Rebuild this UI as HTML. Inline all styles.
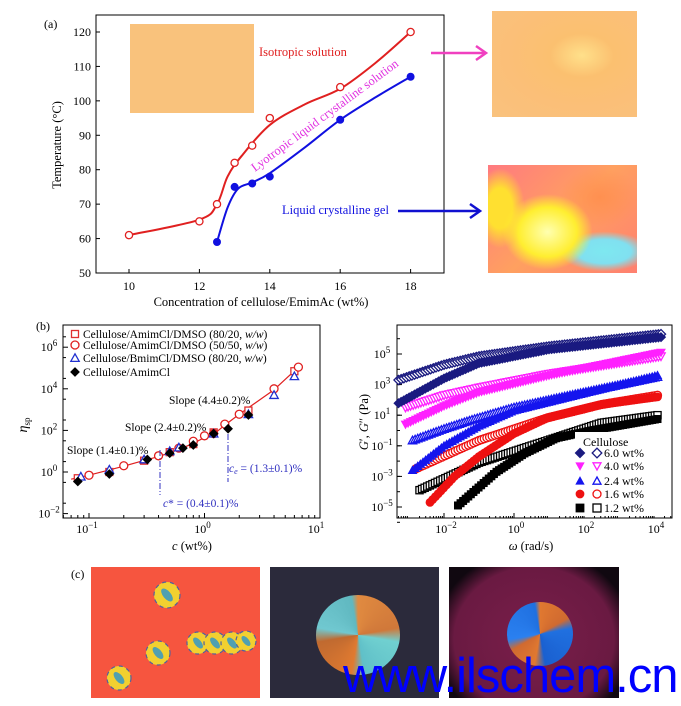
<!DOCTYPE html>
<html><head><meta charset="utf-8"><style>
html,body{margin:0;padding:0;background:#fff;}
#w{position:relative;width:681px;height:706px;overflow:hidden;font-family:"Liberation Serif",serif;}
.abs{position:absolute;}
</style></head><body><div id="w">
<div class="abs" style="left:130px;top:24px;width:124px;height:89px;background:#f9c27c;"></div>
<div class="abs" style="left:492px;top:11px;width:145px;height:106px;background:radial-gradient(ellipse at 62% 42%,#ffe08a 0%,#fbc070 25%,#fbbf78 60%,#f9c27e 100%);"></div>
<div class="abs" style="left:488px;top:165px;width:149px;height:108px;background:
radial-gradient(ellipse 45px 38px at 40% 62%,#ffffb0 0%,#ffee30 65%,rgba(255,230,40,0) 100%),
radial-gradient(ellipse 45px 20px at 78% 80%,#7ee8f0 0%,#80e0f0 60%,rgba(128,224,240,0) 100%),
radial-gradient(ellipse 25px 40px at 8% 40%,#ffe030 0%,#ffe030 50%,rgba(255,224,48,0) 100%),
radial-gradient(ellipse 40px 30px at 75% 30%,#ff9050 0%,rgba(255,144,80,0) 100%),
linear-gradient(135deg,#ff7a80,#ffa060 50%,#ff8070);"></div>
<div class="abs" style="left:91px;top:567px;width:169px;height:131px;background:#f6553f;"></div>
<div class="abs" style="left:270px;top:567px;width:169px;height:131px;background:#2b2a3b;"></div>
<div class="abs" style="left:316px;top:595px;width:84px;height:80px;border-radius:50%;background:conic-gradient(from 0deg,#e08a40 0deg,#d0783a 80deg,#70d0d0 100deg,#60c0c8 170deg,#e07a30 190deg,#c06a30 260deg,#70c8d0 280deg,#60b8c0 350deg,#e08a40 360deg);"></div>
<div class="abs" style="left:449px;top:567px;width:170px;height:131px;background:radial-gradient(ellipse 100px 90px at 50% 55%,#7a1e4a 0%,#6a1a42 80%,#100810 100%);"></div>
<div class="abs" style="left:507px;top:602px;width:66px;height:64px;border-radius:50%;background:conic-gradient(from 0deg,#e07830 0deg,#d06a30 60deg,#2070e0 80deg,#1a60d0 170deg,#e07830 190deg,#d06a30 240deg,#2a80f0 260deg,#2070e0 350deg,#e07830 360deg);"></div>
<svg class="abs" style="left:0;top:0" width="681" height="706" id="s" xmlns="http://www.w3.org/2000/svg" font-family="Liberation Serif, serif"></svg>
<div class="abs" style="left:343px;top:652px;font-family:'Liberation Sans',sans-serif;font-size:49px;color:#0000ff;letter-spacing:-1px;line-height:49px;">www.ilschem.cn</div>
</div>
<script>
const s=document.getElementById('s');let h='';
function T(x,y,t,o){o=o||{};h+=`<text x="${x}" y="${y}" font-size="${o.fs||13}" fill="${o.c||'#000'}" text-anchor="${o.a||'start'}" ${o.tr?'transform="'+o.tr+'"':''} ${o.fst?'font-style="italic"':''}>${t}</text>`;}
function L(x1,y1,x2,y2,c,w,d){h+=`<line x1="${x1}" y1="${y1}" x2="${x2}" y2="${y2}" stroke="${c||'#000'}" stroke-width="${w||1}" ${d?'stroke-dasharray="'+d+'"':''}/>`;}
function smooth(p){let d='M'+p[0][0]+','+p[0][1];for(let i=0;i<p.length-1;i++){const a=p[Math.max(0,i-1)],b=p[i],c=p[i+1],e=p[Math.min(p.length-1,i+2)];const c1=[b[0]+(c[0]-a[0])/6,b[1]+(c[1]-a[1])/6],c2=[c[0]-(e[0]-b[0])/6,c[1]-(e[1]-b[1])/6];d+=`C${c1},${c2},${c}`;}return d;}
function mk(t,x,y,r,c,f){const fi=f?c:'#fff',sw=f?0.8:1.3;
 if(t=='o')h+=`<circle cx="${x}" cy="${y}" r="${r}" fill="${fi}" stroke="${c}" stroke-width="${sw}"/>`;
 if(t=='s')h+=`<rect x="${x-r}" y="${y-r}" width="${2*r}" height="${2*r}" fill="${fi}" stroke="${c}" stroke-width="${sw}"/>`;
 if(t=='d')h+=`<polygon points="${x},${y-r*1.2} ${x+r*1.2},${y} ${x},${y+r*1.2} ${x-r*1.2},${y}" fill="${fi}" stroke="${c}" stroke-width="${sw}"/>`;
 if(t=='t')h+=`<polygon points="${x},${y-r} ${x+r},${y+r*0.8} ${x-r},${y+r*0.8}" fill="${fi}" stroke="${c}" stroke-width="${sw}"/>`;
 if(t=='v')h+=`<polygon points="${x},${y+r} ${x+r},${y-r*0.8} ${x-r},${y-r*0.8}" fill="${fi}" stroke="${c}" stroke-width="${sw}"/>`;}
h+=`<rect x="96" y="15" width="348" height="258" fill="none" stroke="#000" stroke-width="1"/>`;
const ax=c=>129+35.2*(c-10), ay=t=>273-(t-50)*3.443;
for(let t=50;t<=120;t+=10){L(96,ay(t),100,ay(t));T(91,ay(t)+4,t,{a:'end',fs:12});}
for(let c=10;c<=18;c+=2){L(ax(c),273,ax(c),269);T(ax(c),290,c,{a:'middle',fs:12});}
T(261,306,'Concentration of cellulose/EmimAc (wt%)',{a:'middle',fs:12.5});
T(61,145,'Temperature (°C)',{a:'middle',fs:12.5,tr:'rotate(-90 61 145)'});
T(44,28,'(a)',{fs:12});
const R=[[10,61],[12,65],[12.5,70],[13,82],[13.5,87],[14,95],[16,104],[18,120]],B=[[12.5,59],[13,75],[13.5,76],[14,78],[16,94.5],[18,107]];
const Rs=[[10,61],[12,65.5],[12.5,70],[12.8,78],[13.2,84],[14,93],[15,99],[16,103.5],[17,111],[18,120]];
const Bs=[[12.5,59],[12.8,69],[13.1,74.5],[13.5,76.3],[14,79],[15,86.5],[16,94.5],[17,101],[18,107]];
h+=`<path d="${smooth(Rs.map(p=>[ax(p[0]),ay(p[1])]))}" fill="none" stroke="#e02020" stroke-width="2"/>`;
h+=`<path d="${smooth(Bs.map(p=>[ax(p[0]),ay(p[1])]))}" fill="none" stroke="#1010e0" stroke-width="2"/>`;
R.forEach(p=>mk('o',ax(p[0]),ay(p[1]),3.6,'#e02020',0));B.forEach(p=>mk('o',ax(p[0]),ay(p[1]),3.6,'#1010e0',1));
T(259,56,'Isotropic solution',{c:'#e02020',fs:12.5});
T(255,172,'Lyotropic liquid crystalline solution',{c:'#e030e0',fs:12.5,tr:'rotate(-36.5 255 172)'});
T(282,214,'Liquid crystalline gel',{c:'#1010e0',fs:12.5});
L(431,53,484,53,'#f040c0',2.5);h+=`<polyline points="476,46 486,53 476,60" fill="none" stroke="#f040c0" stroke-width="2.5"/>`;
L(398,211,478,211,'#1010d0',2.5);h+=`<polyline points="470,204 480,211 470,218" fill="none" stroke="#1010d0" stroke-width="2.5"/>`;
h+=`<rect x="63" y="325" width="257" height="193" fill="none" stroke="#000"/>`;
const bx=c=>204.5+115.5*Math.log10(c), by=v=>472-20.8*Math.log10(v);
[-1,0,1].forEach(e=>{L(bx(10**e),518,bx(10**e),513);});
for(let e=-2;e<1;e++)for(let k=2;k<10;k++){const x=bx(k*10**e);if(x>63&&x<320)L(x,518,x,515);}
T(bx(0.1)-2,533,'10<tspan dy="-5" font-size="9">−1</tspan>',{a:'middle',fs:12});
T(bx(1)-2,533,'10<tspan dy="-5" font-size="9">0</tspan>',{a:'middle',fs:12});
T(bx(10)-4,533,'10<tspan dy="-5" font-size="9">1</tspan>',{a:'middle',fs:12});
[-2,0,2,4,6].forEach(e=>{L(63,by(10**e),68,by(10**e));T(49,by(10**e)+4,'10<tspan dy="-5" font-size="9">'+(e<0?'−2':e)+'</tspan>',{a:'middle',fs:12});});
for(let e=-2;e<7;e++)L(63,by(10**(e+0.5))+0,66,by(10**(e+0.5)));
T(192,550,'<tspan font-style="italic">c</tspan> (wt%)',{a:'middle',fs:12.5});
T(27,425,'<tspan font-style="italic">η</tspan><tspan font-size="9" dy="3">sp</tspan>',{a:'middle',fs:14,tr:'rotate(-90 27 425)'});
T(36,330,'(b)',{fs:12});
const rl=[[0.07,0.45],[0.1,0.7],[0.2,1.9],[0.3,3.6],[0.4,5.5],[0.6,12],[0.8,24],[1,45],[1.2,65],[1.5,180],[2,600],[4,9000],[6.5,1.1e5]];
h+=`<path d="${'M'+rl.map(p=>[bx(p[0]),by(p[1])]).join('L')}" fill="none" stroke="#e02020" stroke-width="1.2"/>`;
[[0.08,0.5],[0.15,1],[0.3,3.5],[0.5,9],[0.8,22],[1.2,80],[2.4,900],[6,7e4]].forEach(p=>mk('s',bx(p[0]),by(p[1]),3.5,'#e03030',0));
[[0.1,0.7],[0.2,2],[0.4,6],[0.6,14],[0.8,30],[1,55],[1.2,70],[1.5,200],[2,600],[4,1e4],[6.5,1.1e5]].forEach(p=>mk('o',bx(p[0]),by(p[1]),4,'#e02020',0));
[[0.085,0.6],[0.15,1.3],[0.3,4],[0.5,10],[0.6,15],[1.2,70],[2.4,600],[4,5e3],[6,4e4]].forEach(p=>mk('t',bx(p[0]),by(p[1]),4.2,'#2030d0',0));
[[0.08,0.35],[0.15,0.8],[0.32,4],[0.5,8],[0.65,14],[0.8,20],[1.2,70],[1.6,120],[2.4,550]].forEach(p=>mk('d',bx(p[0]),by(p[1]),3.6,'#000',1));
mk('s',75,334,3.5,'#e03030',0);mk('o',75,345,4,'#e02020',0);mk('t',75,358,4.2,'#2030d0',0);mk('d',75,372,3.6,'#000',1);
T(83,338,'Cellulose/AmimCl/DMSO (80/20, <tspan font-style="italic">w/w</tspan>)',{fs:11.5});
T(83,349,'Cellulose/AmimCl/DMSO (50/50, <tspan font-style="italic">w/w</tspan>)',{fs:11.5});
T(83,362,'Cellulose/BmimCl/DMSO (80/20, <tspan font-style="italic">w/w</tspan>)',{fs:11.5});
T(83,376,'Cellulose/AmimCl',{fs:11.5});
T(169,404,'Slope (4.4±0.2)%',{fs:11.5});T(125,431,'Slope (2.4±0.2)%',{fs:11.5});T(67,454,'Slope (1.4±0.1)%',{fs:11.5});
L(160,450,160,495,'#3030c0',1,'6,2,1,2');L(228,434,228,482,'#3030c0',1,'6,2,1,2');
T(229,472,'<tspan font-style="italic">c</tspan><tspan font-size="8" dy="2" font-style="italic">e</tspan><tspan dy="-2"> = (1.3±0.1)%</tspan>',{fs:11.5,c:'#3030c0'});
T(163,507,'<tspan font-style="italic">c</tspan>* = (0.4±0.1)%',{fs:11.5,c:'#3030c0'});
h+=`<rect x="397" y="325" width="275" height="193" fill="none" stroke="#000"/>`;
const gx=l=>514+35*l, gy=l=>430.5-15.3*l;
[-2,0,2,4].forEach(e=>{L(gx(e),518,gx(e),513);T(gx(e)+2,533,'10<tspan dy="-5" font-size="9">'+(e<0?'−2':e)+'</tspan>',{a:'middle',fs:12});});
for(let e=-4;e<5;e++)for(let k=2;k<10;k++){const x=gx(e+Math.log10(k));if(x>397&&x<672)L(x,518,x,516);}
[-5,-3,-1,1,3,5].forEach(e=>{L(397,gy(e),402,gy(e));T(382,gy(e)+4,'10<tspan dy="-5" font-size="9">'+(e<0?'−'+(-e):e)+'</tspan>',{a:'middle',fs:12});});
for(let e=-6;e<7;e++)L(397,gy(e),400,gy(e));
T(531,550,'<tspan font-style="italic">ω</tspan> (rad/s)',{a:'middle',fs:12.5});
T(368,422,'<tspan font-style="italic">G</tspan>′, <tspan font-style="italic">G</tspan>″ (Pa)',{a:'middle',fs:12.5,tr:'rotate(-90 368 422)'});
function ser(pts,t,c,f,r){let segs=[];for(let i=0;i<pts.length-1;i++){const[a,b]=[pts[i],pts[i+1]];const n=Math.max(1,Math.round((b[0]-a[0])/0.075));for(let j=0;j<n;j++){const u=j/n;segs.push([a[0]+(b[0]-a[0])*u,a[1]+(b[1]-a[1])*u]);}}segs.push(pts[pts.length-1]);segs.forEach(p=>mk(t,gx(p[0]),gy(p[1]),r,c,f));}
ser([[-2.7,-3.9],[-1,-2.1],[0.96,-0.65],[2.5,0.5],[4.1,1.0]],'s','#000',0,3.6);
ser([[-1.6,-4.9],[-0.5,-2.7],[0.3,-1.5],[1.2,-0.5],[2.2,0],[4.1,0.75]],'s','#000',1,3.6);
ser([[-2.8,-2.5],[-1,-0.65],[0.96,0.83],[2.5,1.7],[4.1,2.3]],'o','#ee1111',0,4);
ser([[-2.4,-4.7],[-1.7,-3.0],[-1,-1.7],[0,-0.2],[0.96,0.83],[2.5,1.7],[4.1,2.2]],'o','#ee1111',1,4);
ser([[-2.9,-0.65],[-2,0.1],[-1.2,0.7],[0,1.5],[1.6,2.3],[4.1,3.5]],'t','#1515ee',0,4.2);
ser([[-2.9,-2.6],[-2,-1],[-1,0.3],[0,1.3],[1.6,2.2],[4.1,3.6]],'t','#1515ee',1,4.2);
ser([[-3.1,1.5],[-2,2.3],[-1,2.8],[1,3.7],[4.2,4.85]],'v','#ff20ff',0,4.2);
ser([[-3.1,0.4],[-2,1.6],[-1,2.5],[1,3.6],[4.2,5.1]],'v','#ff20ff',1,4.2);
ser([[-3.3,3.3],[-2,4.3],[-1,4.85],[1,5.5],[4.2,6.3]],'d','#1a1a80',0,3.8);
ser([[-3.3,1.78],[-2,3.4],[-1,4.4],[1,5.3],[4.2,6.1]],'d','#1a1a80',1,3.8);
h+=`<rect x="575" y="432" width="96" height="84" fill="#fff"/>`;
T(583,446,'Cellulose',{fs:12});
const lg=[['d','#1a1a80',453,'6.0'],['v','#ff20ff',466,'4.0'],['t','#1515ee',481,'2.4'],['o','#ee1111',494,'1.6'],['s','#000',508,'1.2']];
lg.forEach(q=>{mk(q[0],580,q[2],4,q[1],1);mk(q[0],597,q[2],4,q[1],0);T(604,q[2]+4,q[3]+' wt%',{fs:12});});
T(71,578,'(c)',{fs:12});
[[167,595,13],[158,653,12],[119,678,12],[198,643,11],[215,643,11],[232,643,11],[246,641,10]].forEach(p=>{
 h+=`<circle cx="${p[0]}" cy="${p[1]}" r="${p[2]}" fill="#f2d030"/><circle cx="${p[0]}" cy="${p[1]}" r="${p[2]}" fill="none" stroke="#5060a0" stroke-width="1.2" stroke-dasharray="4,4"/><ellipse cx="${p[0]}" cy="${p[1]}" rx="${p[2]*0.3}" ry="${p[2]*0.6}" fill="#50a0b0" transform="rotate(-40 ${p[0]} ${p[1]})"/>`;});
s.innerHTML=h;
</script>
</body></html>
